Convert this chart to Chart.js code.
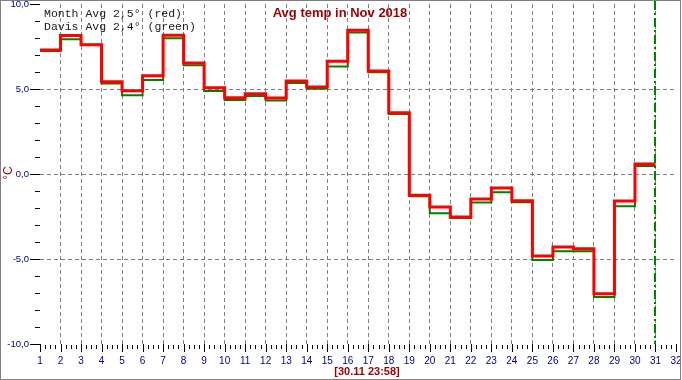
<!DOCTYPE html>
<html><head><meta charset="utf-8">
<script src="https://cdn.jsdelivr.net/npm/chart.js@4/dist/chart.umd.min.js"></script>
<style>html,body{margin:0;padding:0;background:#fff}canvas{display:block}</style>
</head><body>
<canvas id="c" width="682" height="380"></canvas>
<script>
const days = [1,2,3,4,5,6,7,8,9,10,11,12,13,14,15,16,17,18,19,20,21,22,23,24,25,26,27,28,29,30];
const monthAvg = [7.29,8.14,7.61,5.43,4.90,5.78,8.16,6.53,5.08,4.49,4.72,4.47,5.47,5.12,6.63,8.45,6.06,3.60,-1.25,-1.94,-2.53,-1.47,-0.82,-1.58,-4.82,-4.29,-4.39,-7.04,-1.59,0.59];
const davisAvg = [7.24,7.92,7.60,5.33,4.63,5.53,7.98,6.39,4.88,4.35,4.59,4.33,5.35,5.02,6.33,8.33,5.98,3.53,-1.31,-2.31,-2.59,-1.67,-1.08,-1.66,-5.06,-4.55,-4.55,-7.24,-1.90,0.47];
const labeledY = [-10,-5,0,5,10];
const gridY = [-5,0,5];
const xMin = 1, xMax = 32, markerDay = 31;
const yMin = -10, yMax = 10;
const titleText = 'Avg temp in Nov 2018';
const legendLines = ['Month Avg 2,5\u00b0 (red)', 'Davis Avg 2,4\u00b0 (green)'];
const stampText = '[30.11 23:58]';
const unitText = '\u00b0C';

const stepData = vals => days.map((d, i) => ({x: d, y: vals[i]})).concat([{x: markerDay, y: vals[vals.length - 1]}]);

const noPad = s => { s.paddingTop = 0; s.paddingBottom = 0; s.paddingLeft = 0; s.paddingRight = 0; };

const decor = {
  id: 'decor',
  afterDraw(chart) {
    const {ctx, scales: {x, y}, chartArea: a} = chart;
    ctx.save();
    ctx.strokeStyle = '#000';
    ctx.lineWidth = 1;
    ctx.beginPath();
    for (let v = yMin; v <= yMax; v++) {
      const py = Math.round(y.getPixelForValue(v)) + 0.5;
      const len = labeledY.includes(v) ? 10 : 5;
      ctx.moveTo(a.left - len, py); ctx.lineTo(a.left, py);
    }
    for (let d = xMin; d <= xMax; d++) {
      const px = Math.round(x.getPixelForValue(d)) + 0.5;
      ctx.moveTo(px, a.bottom); ctx.lineTo(px, a.bottom + 8);
      if (d < xMax) {
        for (let q = 1; q < 4; q++) {
          const qx = Math.round(x.getPixelForValue(d + q / 4)) + 0.5;
          ctx.moveTo(qx, a.bottom + 1); ctx.lineTo(qx, a.bottom + 5);
        }
      }
    }
    ctx.stroke();
    const mx = Math.round(x.getPixelForValue(markerDay));
    ctx.strokeStyle = '#008000';
    ctx.lineWidth = 2;
    ctx.setLineDash([9, 3, 2, 3]);
    ctx.beginPath();
    ctx.moveTo(mx, 1); ctx.lineTo(mx, a.bottom);
    ctx.stroke();
    ctx.setLineDash([]);
    ctx.fillStyle = '#990000';
    ctx.font = 'bold 13px "Liberation Sans", Arial, sans-serif';
    ctx.textAlign = 'center';
    ctx.textBaseline = 'alphabetic';
    ctx.fillText(titleText, 340, 17);
    ctx.font = 'bold 11px "Liberation Sans", Arial, sans-serif';
    ctx.fillText(stampText, 367, 375);
    ctx.fillStyle = '#1a1a1a';
    ctx.font = '11.5px "Liberation Mono", "Courier New", monospace';
    ctx.textAlign = 'left';
    legendLines.forEach((t, i) => ctx.fillText(t, 44, 17 + i * 13));
    ctx.fillStyle = '#990000';
    ctx.font = '12px "Liberation Sans", Arial, sans-serif';
    ctx.translate(12, 173);
    ctx.rotate(-Math.PI / 2);
    ctx.textAlign = 'center';
    ctx.fillText(unitText, 0, 0);
    ctx.restore();
    ctx.save();
    ctx.strokeStyle = '#808080';
    ctx.lineWidth = 1;
    ctx.strokeRect(0.5, 0.5, 680, 379);
    ctx.restore();
  }
};

new Chart(document.getElementById('c'), {
  type: 'line',
  data: {
    datasets: [
      {label: 'Month Avg', data: stepData(monthAvg), borderColor: '#ff0000', borderWidth: 3, stepped: 'before', pointRadius: 0, fill: false, borderJoinStyle: 'miter'},
      {label: 'Davis Avg', data: stepData(davisAvg), borderColor: '#008000', borderWidth: 2, stepped: 'before', pointRadius: 0, fill: false, borderJoinStyle: 'miter'}
    ]
  },
  options: {
    responsive: false,
    animation: false,
    devicePixelRatio: 1,
    layout: {padding: {top: 4, right: 6, left: 0, bottom: 0}, autoPadding: false},
    plugins: {legend: {display: false}, title: {display: false}, tooltip: {enabled: false}},
    scales: {
      x: {
        type: 'linear', min: xMin, max: xMax,
        afterFit: s => { s.height = 36; noPad(s); },
        border: {display: false, dash: [4, 3]},
        grid: {drawTicks: false, color: c => (c.tick && c.tick.value > xMin && c.tick.value < xMax) ? '#808080' : 'rgba(0,0,0,0)'},
        ticks: {stepSize: 1, autoSkip: false, maxRotation: 0, padding: 11, color: '#000080',
          font: {family: '"Liberation Sans", Arial, sans-serif', size: 10},
          callback: v => String(v)}
      },
      y: {
        min: yMin, max: yMax,
        afterFit: s => { s.width = 40; noPad(s); },
        border: {display: false, dash: [4, 3]},
        grid: {drawTicks: false, color: c => (c.tick && gridY.includes(c.tick.value)) ? '#808080' : 'rgba(0,0,0,0)'},
        ticks: {stepSize: 1, autoSkip: false, padding: 11, color: '#000080',
          font: {family: '"Liberation Sans", Arial, sans-serif', size: 9.5},
          callback: v => labeledY.includes(v) ? v.toFixed(1).replace('.', ',') : ''}
      }
    }
  },
  plugins: [decor]
});
</script>
</body></html>
